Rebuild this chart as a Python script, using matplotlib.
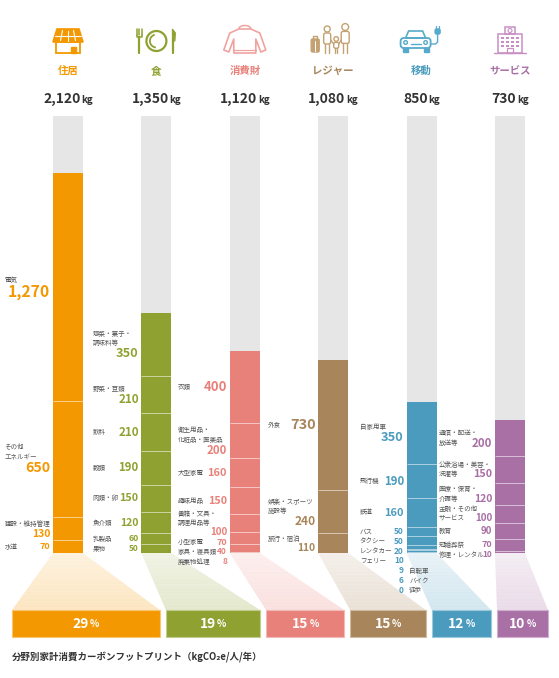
import numpy as np
import matplotlib
matplotlib.use('Agg')
import matplotlib.pyplot as plt
from matplotlib.patches import Polygon, Rectangle, Circle, Arc, FancyBboxPatch
from matplotlib.colors import to_rgb

plt.rcParams['font.family'] = ['Noto Sans CJK JP', 'DejaVu Sans']

# --- data -------------------------------------------------------------
CATEGORIES = ['住居', '食', '消費財', 'レジャー', '移動', 'サービス']
TOTALS = [2120, 1350, 1120, 1080, 850, 730]
SHARES = [29, 19, 15, 15, 12, 10]

# items listed top of bar -> bottom of bar
HOUSING_ITEMS = ['電気', 'その他\nエネルギー', '建設・維持管理', '水道']
HOUSING_VALUES = [1270, 650, 130, 70]
FOOD_ITEMS = ['惣菜・菓子・\n調味料等', '野菜・豆類', '飲料', '穀類', '肉類・卵',
              '魚介類', '乳製品', '果物']
FOOD_VALUES = [350, 210, 210, 190, 150, 120, 60, 50]
GOODS_ITEMS = ['衣類', '衛生用品・\n化粧品・医薬品', '大型家電', '趣味用品',
               '書籍・文具・\n調理用品等', '小型家電', '家具・寝具類', '廃棄物処理']
GOODS_VALUES = [400, 200, 160, 150, 100, 70, 40, 8]
LEISURE_ITEMS = ['外食', '娯楽・スポーツ\n施設等', '旅行・宿泊']
LEISURE_VALUES = [730, 240, 110]
MOBILITY_ITEMS = ['自家用車', '飛行機', '鉄道', 'バス', 'タクシー', 'レンタカー',
                  'フェリー', '自転車', 'バイク', '徒歩']
MOBILITY_VALUES = [350, 190, 160, 50, 50, 20, 10, 9, 6, 0]
SERVICE_ITEMS = ['通信・配送・\n放送等', '公衆浴場・美容・\n洗濯等', '医療・保育・\n介護等',
                 '金融・その他\nサービス', '教育', '冠婚葬祭', '修理・レンタル']
SERVICE_VALUES = [200, 150, 120, 100, 90, 70, 10]

ITEMS = [HOUSING_ITEMS, FOOD_ITEMS, GOODS_ITEMS, LEISURE_ITEMS, MOBILITY_ITEMS, SERVICE_ITEMS]
VALUES = [HOUSING_VALUES, FOOD_VALUES, GOODS_VALUES, LEISURE_VALUES, MOBILITY_VALUES, SERVICE_VALUES]

TITLE = '分野別家計消費カーボンフットプリント（kgCO₂e/人/年）'

# --- layout / style ---------------------------------------------------
MAIN = ['#F39800', '#8FA231', '#E8817A', '#A8855A', '#4B9BBE', '#A970A5']
ICON = ['#F39800', '#8FA231', '#F0A3A0', '#C4A171', '#56AACB', '#C98FC4']
TRACK = '#E6E6E6'
TEXT = '#555555'
DARK = '#333333'
TRACK_MAX = 2440          # height of the grey background track
STACKED = {0: [0, 1, 2], 1: [0, 1], 2: [1, 4], 3: [1, 2], 4: [0], 5: []}
BELOW_RIGHT = {4: [7, 8, 9]}
LABEL_OFFSET = [0.72, 0.72, 0.76, 0.74, 0.70, 0.81]   # label left edge, in columns
W, H = 559, 678
BAR_TOP_PX, BAR_BASE_PX = 116, 553
COL_X0, COL_STEP = 68, 88.4
BAR_W = 30 / COL_STEP
LH = 9.5
LABEL_FS = 4.7
BOX_TOP, BOX_H = 610, 27
BOX_LEFT, BOX_RIGHT, BOX_GAP = 12, 548, 6


def mix(c, t):
    r = np.array(to_rgb(c))
    return tuple(1 - t * (1 - r))


def value_size(v):
    if v <= 0:
        return 6.0
    return float(np.clip(6.0 + 3.8 * (np.log10(v) - 1.7), 6.0, 11.5))


fig = plt.figure(figsize=(W / 100, H / 100), dpi=100)
ax_b = fig.add_axes([0, (H - BAR_BASE_PX) / H, 1, (BAR_BASE_PX - BAR_TOP_PX) / H])
ax_b.set_xlim(-COL_X0 / COL_STEP, (W - COL_X0) / COL_STEP)
ax_b.set_ylim(0, TRACK_MAX)
ax_b.axis('off')

ax_o = fig.add_axes([0, 0, 1, 1], zorder=5)
ax_o.set_xlim(0, W)
ax_o.set_ylim(H, 0)
ax_o.axis('off')
renderer = fig.canvas.get_renderer()


def to_px(i, kg):
    return ax_o.transData.inverted().transform(ax_b.transData.transform((i, kg)))


# --- bars -------------------------------------------------------------
x = np.arange(len(CATEGORIES))
ax_b.bar(x, TRACK_MAX, width=BAR_W, color=TRACK, zorder=1)
for ci, vals in enumerate(VALUES):
    vals = np.array(vals)
    bottoms = np.array([vals[k + 1:].sum() for k in range(len(vals))])
    ax_b.bar(np.full(len(vals), ci), vals, bottom=bottoms, width=BAR_W,
             color=MAIN[ci], zorder=2)
    ax_b.hlines(bottoms[:-1], ci - BAR_W / 2, ci + BAR_W / 2, colors='white',
                linewidth=0.7, alpha=0.55, zorder=3)

# --- segment labels ---------------------------------------------------
for ci, (items, vals) in enumerate(zip(ITEMS, VALUES)):
    col = MAIN[ci]
    cx = to_px(ci, 0)[0]
    lx = cx - LABEL_OFFSET[ci] * COL_STEP
    vx = cx - 0.2 * COL_STEP
    stacked = STACKED[ci]
    after = BELOW_RIGHT.get(ci, [])
    prev_bottom = -1e9
    for k, (name, v) in enumerate(zip(items, vals)):
        mid = sum(vals[k + 1:]) + v / 2
        y_mid = to_px(ci, mid)[1]
        lines = name.split('\n')
        fs = value_size(v)
        vh = fs * 100 / 72 * 0.92
        if k in stacked:
            h = len(lines) * LH + vh
        elif k in after:
            h = LH
        else:
            h = (len(lines) - 1) * LH + max(LH, vh)
        top = max(y_mid - h / 2, prev_bottom + 0.3)
        prev_bottom = top + h
        label = f'{v:,}'
        if k in after:
            yc = top + h / 2
            ax_o.text(vx, yc, label, ha='right', va='center', fontsize=fs,
                      fontweight='bold', color=col)
            ax_o.text(cx - 0.14 * COL_STEP, yc, name, ha='left', va='center',
                      fontsize=LABEL_FS, color=TEXT)
        elif k in stacked:
            for j, ln in enumerate(lines):
                ax_o.text(lx, top + j * LH + LH / 2, ln, ha='left', va='center',
                          fontsize=LABEL_FS, color=TEXT)
            ax_o.text(vx, top + len(lines) * LH + vh / 2, label, ha='right',
                      va='center', fontsize=fs, fontweight='bold', color=col)
        else:
            last = top + (len(lines) - 1) * LH + max(LH, vh) / 2
            for j, ln in enumerate(lines):
                yy = top + j * LH + LH / 2 if j < len(lines) - 1 else last
                ax_o.text(lx, yy, ln, ha='left', va='center', fontsize=LABEL_FS, color=TEXT)
            ax_o.text(vx, last, label, ha='right', va='center', fontsize=fs,
                      fontweight='bold', color=col)


def pair_text(cx, y, big, small, fs_big, fs_small, color, gap=1.0):
    t1 = ax_o.text(0, y, big, ha='left', va='center', fontsize=fs_big,
                   fontweight='bold', color=color)
    t2 = ax_o.text(0, y, small, ha='left', va='center', fontsize=fs_small,
                   fontweight='bold', color=color)
    w1 = t1.get_window_extent(renderer).width
    w2 = t2.get_window_extent(renderer).width
    x0 = cx - (w1 + gap + w2) / 2
    t1.set_x(x0)
    t2.set_x(x0 + w1 + gap)
    t2.set_y(y + 0.8)


# --- headers ----------------------------------------------------------
for ci, name in enumerate(CATEGORIES):
    cx = to_px(ci, 0)[0]
    ax_o.text(cx, 71, name, ha='center', va='center', fontsize=7.5,
              fontweight='bold', color=MAIN[ci])
    pair_text(cx, 99, f'{TOTALS[ci]:,}', 'kg', 10, 7, DARK)


# --- icons ------------------------------------------------------------
def line(xs, ys, col, lw=1.3):
    ax_o.plot(xs, ys, color=col, lw=lw, solid_capstyle='round')


def icon_house(cx, col):
    ax_o.add_patch(Polygon([(cx - 11, 29), (cx + 11, 29), (cx + 15, 42), (cx - 15, 42)],
                           closed=True, fc=col, ec=col, lw=1.2))
    line([cx - 13, cx + 13], [35.5, 35.5], 'white', 0.8)
    for j in range(1, 4):
        line([cx - 11 + 22 * j / 4, cx - 15 + 30 * j / 4], [30.5, 40.5], 'white', 0.8)
    ax_o.add_patch(Rectangle((cx - 12, 42), 24, 11, fill=False, ec=col, lw=1.3))
    ax_o.add_patch(Rectangle((cx + 3, 47), 5, 6, fc=col, ec=col, lw=1))


def icon_food(cx, col):
    ax_o.add_patch(Circle((cx, 41), 10, fill=False, ec=col, lw=1.6))
    ax_o.add_patch(Arc((cx, 41), 13, 13, theta1=95, theta2=255, ec=col, lw=1.3))
    fx = cx - 17
    for dx in (-2.5, 0, 2.5):
        line([fx + dx, fx + dx], [29, 35], col, 1.1)
    line([fx - 2.5, fx - 2.5, fx + 2.5, fx + 2.5], [35, 37, 37, 35], col, 1.1)
    line([fx, fx], [37, 53], col, 1.6)
    kx = cx + 17
    ax_o.add_patch(Polygon([(kx - 1, 29), (kx + 2, 33), (kx + 1.5, 41), (kx - 1, 41)],
                           closed=True, fc=col, ec=col, lw=0.8))
    line([kx, kx], [41, 53], col, 1.6)


def icon_sweater(cx, col):
    pts = [(cx - 6, 29), (cx + 6, 29), (cx + 15, 33), (cx + 21, 50), (cx + 16, 52),
           (cx + 11, 39), (cx + 11, 53), (cx - 11, 53), (cx - 11, 39), (cx - 16, 52),
           (cx - 21, 50), (cx - 15, 33)]
    ax_o.add_patch(Polygon(pts, closed=True, fill=False, ec=col, lw=1.2, joinstyle='round'))
    ax_o.add_patch(Arc((cx, 29), 12, 7, theta1=180, theta2=360, ec=col, lw=1.1))
    line([cx - 11, cx + 11], [50, 50], col, 0.9)


def icon_family(cx, col):
    ax_o.add_patch(FancyBboxPatch((cx - 22, 39), 8, 13, boxstyle='round,pad=0,rounding_size=1.5',
                                  fc=col, ec=col, lw=1))
    line([cx - 20, cx - 20, cx - 16, cx - 16], [39, 36, 36, 39], col, 1)
    line([cx - 18, cx - 18], [41, 51], 'white', 0.7)
    for hx, hy, r, bw, bh in [(cx - 6, 29, 3.0, 7, 11), (cx + 12, 27, 3.4, 8, 12),
                              (cx + 3, 39, 2.3, 5, 6)]:
        ax_o.add_patch(Circle((hx, hy), r, fill=False, ec=col, lw=1))
        top = hy + r + 1
        ax_o.add_patch(FancyBboxPatch((hx - bw / 2, top), bw, bh,
                                      boxstyle='round,pad=0,rounding_size=2',
                                      fill=False, ec=col, lw=1))
        line([hx - bw / 4, hx - bw / 4], [top + bh, 53], col, 1)
        line([hx + bw / 4, hx + bw / 4], [top + bh, 53], col, 1)
    line([cx - 2.5, cx + 0.5], [40, 44], col, 1)
    line([cx + 5.5, cx + 8], [44, 40], col, 1)


def icon_car(cx, col):
    c = cx - 6
    ax_o.add_patch(Polygon([(c - 10, 38), (c - 7, 31), (c + 7, 31), (c + 10, 38)],
                           closed=True, fill=False, ec=col, lw=1.2))
    ax_o.add_patch(FancyBboxPatch((c - 15, 38), 30, 10, boxstyle='round,pad=0,rounding_size=3',
                                  fill=False, ec=col, lw=1.3))
    ax_o.add_patch(Rectangle((c - 13, 48), 5, 4, fc=col, ec=col))
    ax_o.add_patch(Rectangle((c + 8, 48), 5, 4, fc=col, ec=col))
    ax_o.add_patch(Circle((c - 10, 42.5), 1.8, fill=False, ec=col, lw=1))
    ax_o.add_patch(Circle((c + 10, 42.5), 1.8, fill=False, ec=col, lw=1))
    line([c - 5, c + 5], [44, 44], col, 1)
    line([c + 15, c + 20, c + 22, c + 22], [44, 44, 42, 34], col, 1)
    ax_o.add_patch(FancyBboxPatch((c + 19.5, 29), 5, 5, boxstyle='round,pad=0,rounding_size=1.5',
                                  fc=col, ec=col))
    line([c + 20.8, c + 20.8], [26, 29], col, 0.9)
    line([c + 23.2, c + 23.2], [26, 29], col, 0.9)


def icon_building(cx, col):
    ax_o.add_patch(Rectangle((cx - 12, 34), 24, 19, fill=False, ec=col, lw=1.1))
    ax_o.add_patch(Rectangle((cx - 5, 27), 10, 7, fill=False, ec=col, lw=1.1))
    ax_o.add_patch(Circle((cx, 30.5), 2, fill=False, ec=col, lw=0.8))
    for r in range(3):
        for cc in range(4):
            ax_o.add_patch(Rectangle((cx - 9 + cc * 5, 36.5 + r * 4), 2.6, 2.4, fc=col, ec='none'))
    ax_o.add_patch(Rectangle((cx - 3, 48), 6, 5, fill=False, ec=col, lw=0.9))
    line([cx - 16, cx + 16], [53, 53], col, 1)


ICON_FUNCS = [icon_house, icon_food, icon_sweater, icon_family, icon_car, icon_building]
for ci, fn in enumerate(ICON_FUNCS):
    fn(to_px(ci, 0)[0], ICON[ci])

# --- fans and share boxes ---------------------------------------------
totals = np.array(TOTALS, dtype=float)
avail = (BOX_RIGHT - BOX_LEFT) - BOX_GAP * (len(totals) - 1)
widths = totals / totals.sum() * avail
lefts = BOX_LEFT + np.concatenate([[0], np.cumsum(widths[:-1] + BOX_GAP)])
N_STRIPS = 40
for ci in range(len(CATEGORIES)):
    bl = to_px(ci - BAR_W / 2, 0)
    br = to_px(ci + BAR_W / 2, 0)
    l, w = lefts[ci], widths[ci]
    y0 = bl[1]
    for s in range(N_STRIPS):
        f0, f1 = s / N_STRIPS, (s + 1) / N_STRIPS
        ya, yb = y0 + (BOX_TOP - y0) * f0, y0 + (BOX_TOP - y0) * f1 + 0.3
        la, lb = bl[0] + (l - bl[0]) * f0, bl[0] + (l - bl[0]) * f1
        ra, rb = br[0] + (l + w - br[0]) * f0, br[0] + (l + w - br[0]) * f1
        ax_o.add_patch(Polygon([(la, ya), (ra, ya), (rb, yb), (lb, yb)], closed=True,
                               fc=mix(MAIN[ci], 0.13 + 0.12 * f0), ec='none', zorder=1))
    ax_o.add_patch(Rectangle((l, BOX_TOP), w, BOX_H, fc=MAIN[ci], ec=mix(MAIN[ci], 0.55),
                             lw=0.8, zorder=2))
    pair_text(l + w / 2, BOX_TOP + BOX_H / 2, str(SHARES[ci]), '%', 10, 7, 'white')

ax_o.text(BOX_LEFT, 657, TITLE, ha='left', va='center', fontsize=6.8,
          fontweight='bold', color=DARK)

fig.savefig('out.png', dpi=100, facecolor='white')
